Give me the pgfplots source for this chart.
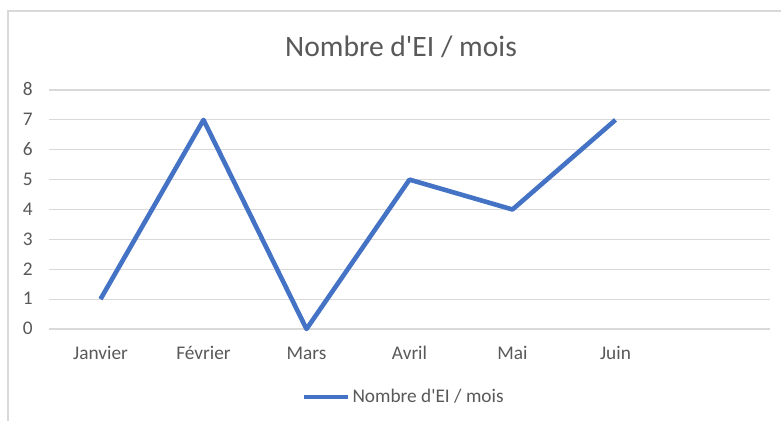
\documentclass[border=0pt]{standalone}
\usepackage{fontspec}
\setmainfont{Carlito}
\usepackage{pgfplots}
\pgfplotsset{compat=1.18}
\definecolor{linecol}{HTML}{4472C4}
\definecolor{txtcol}{HTML}{595959}
\definecolor{gridcol}{HTML}{D9D9D9}
\begin{document}
\begin{tikzpicture}
\useasboundingbox (0,0) rectangle (390.5pt,210.5pt);
\fill[white] (0,0) rectangle (390.5pt,210.5pt);
\draw[gridcol, line width=0.8pt] (4pt,0) -- (4pt,205pt) -- (391pt,205pt);
\node[text=txtcol, font=\fontsize{14.8}{17}\selectfont, anchor=center] at (200.5pt,187pt) {Nombre d\textquotesingle EI / mois};
\begin{axis}[
  at={(24.5pt,46pt)}, anchor=south west,
  scale only axis, width=360.5pt, height=119.5pt,
  xmin=-0.5, xmax=6.5, ymin=0, ymax=8,
  xtick={0,1,2,3,4,5},
  xticklabels={Janvier,Février,Mars,Avril,Mai,Juin},
  ytick={0,1,...,8},
  axis line style={draw=none},
  major tick length=0pt,
  ymajorgrids, grid style={gridcol, line width=0.6pt},
  /pgf/number format/assume math mode=true,
  tick label style={text=txtcol, font=\fontsize{9.65}{11}\selectfont},
  xticklabel style={anchor=mid, yshift=-13pt, inner sep=0pt},
  yticklabel style={anchor=mid east, xshift=-8pt, yshift=-0.5pt, inner sep=0pt},
  legend style={at={(0.492,-0.285)}, anchor=center, draw=none, fill=none,
    font=\fontsize{9.65}{11}\selectfont, text=txtcol,
    /tikz/every even column/.append style={column sep=0pt},
    nodes={inner sep=1pt}},
  legend image code/.code={\draw[#1] (0pt,0pt) -- (22pt,0pt);},
  clip=false,
]
\addplot[linecol, line width=2.3pt, line join=round] coordinates {
  (0,1) (1,7) (2,0) (3,5) (4,4) (5,7)
};
\addlegendentry{Nombre d\textquotesingle EI / mois}
\end{axis}
\end{tikzpicture}
\end{document}
